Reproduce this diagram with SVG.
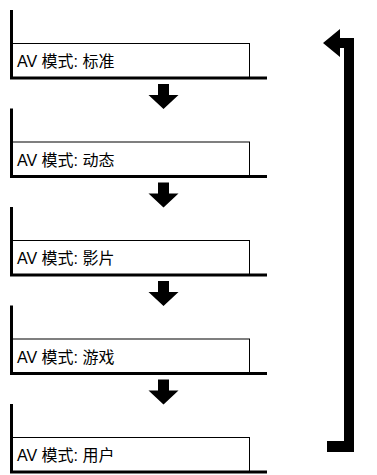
<svg xmlns="http://www.w3.org/2000/svg" width="377" height="475" viewBox="0 0 377 475">
<style>
.box{fill:#fff;stroke:#000;stroke-width:1}
.thick{stroke:#000;stroke-width:3;fill:none}
.lbl{font-family:"Liberation Sans","Noto Sans CJK SC",sans-serif;font-size:16px;fill:#000}
.arr{fill:#000}
</style>
<defs>
<path id="down" class="arr" d="M-5.5,0 H5.5 V11 H15 L0,25 L-15,11 H-5.5 Z"/>
</defs>
<rect width="377" height="475" fill="#fff"/>
<g id="node1">
<rect class="box" x="12.5" y="43.5" width="237" height="34.5"/>
<path class="thick" d="M11.5,10 V79.5 M10,78 H267"/>
<text class="lbl" x="17" y="67">AV 模式: 标准</text>
</g>
<g id="node2" transform="translate(0,98.5)">
<rect class="box" x="12.5" y="43.5" width="237" height="34.5"/>
<path class="thick" d="M11.5,10 V79.5 M10,78 H267"/>
<text class="lbl" x="17" y="67">AV 模式: 动态</text>
</g>
<g id="node3" transform="translate(0,197)">
<rect class="box" x="12.5" y="43.5" width="237" height="34.5"/>
<path class="thick" d="M11.5,10 V79.5 M10,78 H267"/>
<text class="lbl" x="17" y="67">AV 模式: 影片</text>
</g>
<g id="node4" transform="translate(0,295.5)">
<rect class="box" x="12.5" y="43.5" width="237" height="34.5"/>
<path class="thick" d="M11.5,10 V79.5 M10,78 H267"/>
<text class="lbl" x="17" y="67">AV 模式: 游戏</text>
</g>
<g id="node5" transform="translate(0,394)">
<rect class="box" x="12.5" y="43.5" width="237" height="34.5"/>
<path class="thick" d="M11.5,10 V79.5 M10,78 H267"/>
<text class="lbl" x="17" y="67">AV 模式: 用户</text>
</g>
<g id="connectors">
<use href="#down" x="163.5" y="84"/>
<use href="#down" x="163.5" y="182.5"/>
<use href="#down" x="163.5" y="281"/>
<use href="#down" x="163.5" y="379.5"/>
<path class="arr" d="M323,43 L340,29 V38 H354 V452 H327 V441 H344 V48 H340 V57 Z"/>
</g>
</svg>
